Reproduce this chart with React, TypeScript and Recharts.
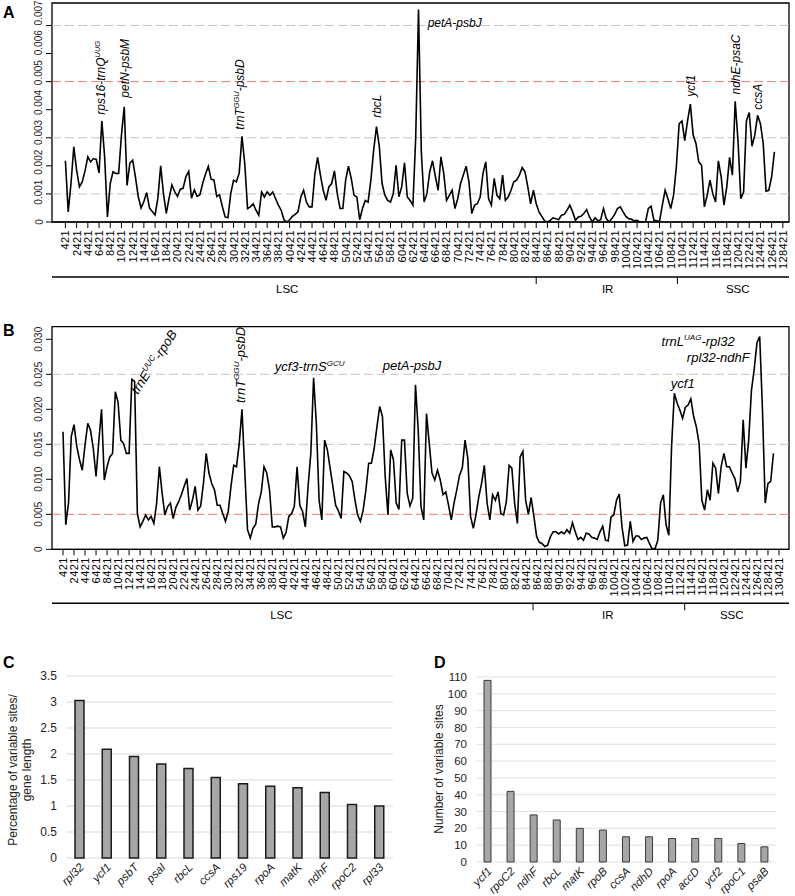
import React from 'react';
import {
  LineChart, Line, XAxis, YAxis, ReferenceLine, ReferenceArea, ReferenceDot,
  BarChart, Bar, CartesianGrid,
} from 'recharts';

const FONT = '"Liberation Sans", Arial, Helvetica, sans-serif';

// sliding window midpoints: first window and step (bp)
const WIN_START = 421;
const WIN_STEP = 500;

// nucleotide diversity (Pi), panel A
const piA = [
  0.00218, 0.00036, 0.00137, 0.00268, 0.00185, 0.00125, 0.00143, 0.00182, 0.00232, 0.00214,
  0.00226, 0.00223, 0.00175, 0.0036, 0.00232, 0.00018, 0.00137, 0.00179, 0.00173, 0.00173,
  0.0031, 0.0041, 0.0013, 0.0021, 0.0022, 0.0016, 0.0009, 0.0005, 0.00073, 0.00105,
  0.0005, 0.00037, 0.00025, 0.00085, 0.002, 0.001, 0.00031, 0.00085, 0.00132, 0.00108,
  0.00091, 0.00117, 0.0012, 0.00162, 0.0018, 0.00085, 0.00114, 0.00091, 0.00097, 0.00138,
  0.00171, 0.00198, 0.00152, 0.0015, 0.00091, 0.00097, 0.00055, 0.00018, 0.00015, 0.00101,
  0.00149, 0.00143, 0.00173, 0.00305, 0.00208, 0.00048, 0.00054, 0.00065, 0.00042, 0.00024,
  0.00107, 0.00089, 0.00107, 0.00095, 0.00107, 0.00083, 0.0006, 0.00042, 0.00008, 0,
  0.00008, 0.0002, 0.00027, 0.00036, 0.00089, 0.00113, 0.00071, 0.00054, 0.00054, 0.0017,
  0.0023, 0.00167, 0.00113, 0.00077, 0.00125, 0.00137, 0.00182, 0.00101, 0.00048, 0.00048,
  0.00149, 0.00199, 0.00155, 0.00095, 0.00089, 0.00008, 0.00048, 0.00077, 0.00071, 0.00149,
  0.00256, 0.0034, 0.0027, 0.00137, 0.00095, 0.00077, 0.00071, 0.00101, 0.00202, 0.0009,
  0.00125, 0.00211, 0.00089, 0.00077, 0.0006, 0.003, 0.00757, 0.0025, 0.00071, 0.00101,
  0.00179, 0.00218, 0.00163, 0.00113, 0.00232, 0.00173, 0.00077, 0.00095, 0.00113, 0.00048,
  0.00083, 0.00137, 0.00167, 0.00199, 0.00143, 0.0003, 0.0006, 0.00065, 0.00089, 0.00173,
  0.00214, 0.00083, 0.0006, 0.00155, 0.00095, 0.00083, 0.00167, 0.00077, 0.00089, 0.00113,
  0.00143, 0.00149, 0.00167, 0.00194, 0.00179, 0.00125, 0.00065, 0.00113, 0.00065, 0.00036,
  0.0002, 0.00004, 0, 0.00006, 0.00015, 0.00012, 0.00008, 0.00024, 0.00027, 0.00042,
  0.0006, 0.00036, 0.00006, 0.00018, 0.0002, 0.0003, 0.00044, 0.00018, 0, 0.00015,
  0.00004, 0.00008, 0.00048, 0.00012, 0, 0.00012, 0.00027, 0.00048, 0.00054, 0.00036,
  0.0002, 0.00012, 0.0001, 0.00004, 0.00006, 0, 0, 0, 0.00048, 0.00056,
  0.00006, 0.00004, 0.00002, 0.0006, 0.00113, 0.00083, 0.00048, 0.00095, 0.00196, 0.0035,
  0.0036, 0.0029, 0.0036, 0.0042, 0.0031, 0.0028, 0.00214, 0.00202, 0.00054, 0.00095,
  0.00149, 0.00101, 0.00071, 0.00218, 0.00161, 0.0006, 0.00125, 0.0023, 0.00167, 0.0043,
  0.0029, 0.00083, 0.00107, 0.0036, 0.0039, 0.0027, 0.0031, 0.0038, 0.0035, 0.0028,
  0.0011, 0.00113, 0.00161, 0.0025,
];

// nucleotide diversity (Pi), panel B
const piB = [
  0.0168, 0.0035, 0.0066, 0.0161, 0.0178, 0.0147, 0.0128, 0.0113, 0.0149, 0.018,
  0.017, 0.0144, 0.0104, 0.0154, 0.02, 0.0099, 0.0118, 0.0132, 0.0137, 0.0225,
  0.021, 0.0156, 0.0151, 0.0137, 0.0137, 0.0243, 0.024, 0.0051, 0.0032, 0.004,
  0.0049, 0.0042, 0.0047, 0.0037, 0.0066, 0.0118, 0.008, 0.0049, 0.0061, 0.0066,
  0.0044, 0.006, 0.0068, 0.0078, 0.009, 0.0101, 0.0056, 0.007, 0.009, 0.0056,
  0.0062, 0.0094, 0.0137, 0.0109, 0.0094, 0.0085, 0.0063, 0.0063, 0.0051, 0.004,
  0.0054, 0.009, 0.012, 0.0118, 0.0151, 0.02, 0.0113, 0.0028, 0.0016, 0.003,
  0.0036, 0.0065, 0.0082, 0.0118, 0.0109, 0.0085, 0.0032, 0.0032, 0.0033, 0.0032,
  0.0016, 0.0024, 0.0047, 0.0051, 0.0061, 0.0118, 0.0063, 0.0054, 0.0032, 0.009,
  0.0137, 0.0245, 0.018, 0.007, 0.0042, 0.0156, 0.0142, 0.0116, 0.009, 0.0063,
  0.0055, 0.0044, 0.0111, 0.0109, 0.0105, 0.0097, 0.0071, 0.0049, 0.004, 0.0056,
  0.0085, 0.0123, 0.0123, 0.0144, 0.0175, 0.0204, 0.019, 0.0104, 0.0049, 0.0142,
  0.0128, 0.0066, 0.0057, 0.0156, 0.0156, 0.008, 0.0062, 0.0073, 0.0235, 0.017,
  0.0061, 0.0042, 0.0194, 0.0151, 0.0109, 0.0099, 0.0113, 0.0099, 0.0078, 0.0082,
  0.0063, 0.0042, 0.0066, 0.0085, 0.0106, 0.0116, 0.0156, 0.013, 0.0047, 0.003,
  0.005, 0.0075, 0.0094, 0.012, 0.0066, 0.0042, 0.0078, 0.007, 0.0082, 0.0051,
  0.0049, 0.0068, 0.012, 0.0116, 0.0066, 0.0037, 0.0132, 0.014, 0.007, 0.005,
  0.0074, 0.0047, 0.0018, 0.001, 0.0008, 0.0004, 0.0006, 0.0018, 0.0025, 0.0025,
  0.0022, 0.0025, 0.0022, 0.0028, 0.0023, 0.0038, 0.0025, 0.0014, 0.0017, 0.0013,
  0.0023, 0.0022, 0.0017, 0.0016, 0.0014, 0.0025, 0.0033, 0.0013, 0.0012, 0.0046,
  0.0049, 0.007, 0.0079, 0.0032, 0.0005, 0.0006, 0.004, 0.0011, 0.0019, 0.0019,
  0.0014, 0.0016, 0.0017, 0.0008, 0, 0.0001, 0.0013, 0.0066, 0.0078, 0.0035,
  0.002, 0.0147, 0.0223, 0.0209, 0.0199, 0.0187, 0.0203, 0.0206, 0.0215, 0.019,
  0.0175, 0.0151, 0.007, 0.0056, 0.0085, 0.007, 0.0123, 0.0116, 0.008, 0.0118,
  0.0137, 0.0118, 0.0118, 0.0109, 0.0101, 0.0082, 0.0097, 0.0185, 0.0116, 0.0156,
  0.0227, 0.0257, 0.0295, 0.0304, 0.02, 0.0066, 0.0094, 0.0097, 0.0137,
];

const xTicksA = [
  421, 2421, 4421, 6421, 8421, 10421, 12421, 14421, 16421, 18421, 20421, 22421, 24421,
  26421, 28421, 30421, 32421, 34421, 36421, 38421, 40421, 42421, 44421, 46421, 48421,
  50421, 52421, 54421, 56421, 58421, 60421, 62421, 64421, 66421, 68421, 70421, 72421,
  74421, 76421, 78421, 80421, 82421, 84421, 86421, 88421, 90421, 92421, 94421, 96421,
  98421, 100421, 102421, 104421, 106421, 108421, 110421, 112421, 114421, 116421, 118421,
  120421, 122421, 124421, 126421, 128421,
];
const xTicksB = [
  421, 2421, 4421, 6421, 8421, 10421, 12421, 14421, 16421, 18421, 20421, 22421, 24421,
  26421, 28421, 30421, 32421, 34421, 36421, 38421, 40421, 42421, 44421, 46421, 48421,
  50421, 52421, 54421, 56421, 58421, 60421, 62421, 64421, 66421, 68421, 70421, 72421,
  74421, 76421, 78421, 80421, 82421, 84421, 86421, 88421, 90421, 92421, 94421, 96421,
  98421, 100421, 102421, 104421, 106421, 108421, 110421, 112421, 114421, 116421, 118421,
  120421, 122421, 124421, 126421, 128421, 130421,
];
const yTicksA = [0, 0.001, 0.002, 0.003, 0.004, 0.005, 0.006, 0.007];
const yTicksB = [0, 0.005, 0.01, 0.015, 0.02, 0.025, 0.03];
const greyLinesA = [0.001, 0.003, 0.007];
const greyLinesB = [0.015, 0.025];
const redLine = 0.005;

const regionNames = ['LSC', 'IR', 'SSC'];
const regionMidA = [40000, 97170, 120370];
const regionEdgeA = [84421, 109610];
const regionMidB = [40080, 99330, 121840];
const regionEdgeB = [85760, 113300];

// highlighted loci
const lociA = [
  { pre: 'rps16-trnQ', sup: 'UUG', post: '', pos: 6720, y: 0.00382, angle: -90, anchor: 'start' },
  { pre: 'petN-psbM', sup: '', post: '', pos: 11000, y: 0.00443, angle: -90, anchor: 'start' },
  { pre: 'trnT', sup: 'GGU', post: '-psbD', pos: 31610, y: 0.00329, angle: -90, anchor: 'start' },
  { pre: 'rbcL', sup: '', post: '', pos: 55960, y: 0.00371, angle: -90, anchor: 'start' },
  { pre: 'petA-psbJ', sup: '', post: '', pos: 65060, y: 0.00696, angle: 0, anchor: 'start' },
  { pre: 'ycf1', sup: '', post: '', pos: 112070, y: 0.00446, angle: -90, anchor: 'start' },
  { pre: 'ndhE-psaC', sup: '', post: '', pos: 120010, y: 0.00454, angle: -90, anchor: 'start' },
  { pre: 'ccsA', sup: '', post: '', pos: 123940, y: 0.004, angle: -90, anchor: 'start' },
];
const lociB = [
  { pre: 'trnE', sup: 'UUC', post: '-rpoB', pos: 13985, y: 0.02204, angle: -57, anchor: 'start' },
  { pre: 'trnT', sup: 'GGU', post: '-psbD', pos: 32595, y: 0.0209, angle: -90, anchor: 'start' },
  { pre: 'ycf3-trnS', sup: 'GCU', post: '', pos: 45215, y: 0.02547, angle: 0, anchor: 'middle' },
  { pre: 'petA-psbJ', sup: '', post: '', pos: 58470, y: 0.02561, angle: 0, anchor: 'start' },
  { pre: 'ycf1', sup: '', post: '', pos: 112940, y: 0.02304, angle: 0, anchor: 'middle' },
  { pre: 'trnL', sup: 'UAG', post: '-rpl32', pos: 122380, y: 0.02909, angle: 0, anchor: 'end' },
  { pre: 'rpl32-ndhF', sup: '', post: '', pos: 125110, y: 0.0268, angle: 0, anchor: 'end' },
];

// panel C
const genesC = ['rpl32', 'ycf1', 'psbT', 'psaI', 'rbcL', 'ccsA', 'rps19', 'rpoA', 'matK', 'ndhF', 'rpoC2', 'rpl33'];
const pctC = [3.03, 2.09, 1.95, 1.81, 1.72, 1.55, 1.43, 1.38, 1.35, 1.26, 1.03, 1.0];
const yTicksC = [0, 0.5, 1, 1.5, 2, 2.5, 3, 3.5];

// panel D
const genesD = ['ycf1', 'rpoC2', 'ndhF', 'rbcL', 'matK', 'rpoB', 'ccsA', 'ndhD', 'rpoA', 'accD', 'ycf2', 'rpoC1', 'psaB'];
const sitesD = [108, 42, 28, 25, 20, 19, 15, 15, 14, 14, 14, 11, 9];
const yTicksD = [0, 10, 20, 30, 40, 50, 60, 70, 80, 90, 100, 110];

const fmtPi = (v: number) => (v === 0 ? '0' : v.toFixed(3));

const PosTick = (props: any) => {
  const { x, y, payload } = props;
  return (
    <text x={x} y={y} transform={`rotate(-90 ${x} ${y})`} textAnchor="end" dy="0.36em"
      fontSize={11} letterSpacing={0.4} fontFamily={FONT} fill="#000">
      {payload.value}
    </text>
  );
};

// labels in panel A sit a little wider apart than their ticks
const PiTick = (props: any) => {
  const { x, y, payload, spread, unit } = props;
  const ly = y - (payload.value / unit) * spread;
  return (
    <text x={x} y={ly} transform={`rotate(-90 ${x} ${ly})`} textAnchor="middle" dy={-1.5}
      fontSize={10} fontFamily={FONT} fill="#222">
      {fmtPi(payload.value)}
    </text>
  );
};

const RegionTick = (props: any) => {
  const { x, y, payload, edges, mids } = props;
  if (edges.includes(payload.value)) {
    return <line x1={x} y1={y} x2={x} y2={y + 7} stroke="#000" strokeWidth={1} />;
  }
  const i = mids.indexOf(payload.value);
  return (
    <text x={x} y={y + 16} textAnchor="middle" fontSize={11.5} fontFamily={FONT} fill="#000">
      {regionNames[i]}
    </text>
  );
};

const LocusLabel = (props: any) => {
  const { cx, cy, locus, size } = props;
  const rot = locus.angle ? `rotate(${locus.angle} ${cx} ${cy})` : undefined;
  const sup = size * 0.62;
  return (
    <text x={cx} y={cy} transform={rot} textAnchor={locus.anchor} dy={locus.angle === -90 ? '0.35em' : 0}
      fontStyle="italic" fontSize={size} fontFamily={FONT} fill="#000">
      {locus.pre}
      {locus.sup ? <tspan fontSize={sup} dy={-size * 0.42}>{locus.sup}</tspan> : null}
      {locus.post ? <tspan dy={locus.sup ? size * 0.42 : 0}>{locus.post}</tspan> : null}
    </text>
  );
};

type PanelProps = {
  top: number; height: number; mTop: number; plotH: number; axisH: number;
  values: number[]; xTicks: number[]; xDomain: [number, number];
  yTicks: number[]; yMax: number; grey: number[]; spread: number; unit: number;
  mids: number[]; edges: number[]; loci: any[]; labelSize: number;
};

function DiversityPanel(p: PanelProps) {
  const data = p.values.map((v, i) => ({ pos: WIN_START + i * WIN_STEP, pi: v }));
  const regionH = p.height - p.mTop - p.plotH - p.axisH;
  return (
    <div style={{ position: 'absolute', left: 0, top: p.top }}>
      <LineChart width={795} height={p.height} data={data} margin={{ top: p.mTop, right: 6, bottom: 0, left: 0 }}>
        <XAxis dataKey="pos" type="number" domain={p.xDomain} allowDataOverflow ticks={p.xTicks} interval={0}
          height={p.axisH} tickSize={6} tickMargin={2} tick={<PosTick />}
          tickLine={{ stroke: '#000' }} axisLine={{ stroke: '#000' }} />
        <XAxis xAxisId="region" dataKey="pos" type="number" domain={p.xDomain} allowDataOverflow
          ticks={[...p.edges, ...p.mids]} interval={0} height={regionH} tickSize={0} tickMargin={0}
          tickLine={false} axisLine={{ stroke: '#000', strokeWidth: 1.4 }}
          tick={<RegionTick edges={p.edges} mids={p.mids} />} />
        <YAxis type="number" domain={[0, p.yMax]} allowDataOverflow ticks={p.yTicks} interval={0} width={52}
          tickSize={6} tickMargin={2} tick={<PiTick spread={p.spread} unit={p.unit} />}
          tickLine={{ stroke: '#000' }} axisLine={false} />
        {p.grey.map((g) => (
          <ReferenceLine key={g} y={g} stroke="#c4c4c4" strokeWidth={1} strokeDasharray="9 4" />
        ))}
        <ReferenceLine y={redLine} stroke="#f07a7a" strokeWidth={1} strokeDasharray="9 4" />
        <ReferenceArea x1={p.xDomain[0]} x2={p.xDomain[1]} y1={0} y2={p.yMax} fill="none"
          stroke="#000" strokeWidth={1.3} ifOverflow="visible" />
        <Line type="linear" dataKey="pi" stroke="#000" strokeWidth={1.6} dot={false} isAnimationActive={false} />
        {p.loci.map((l) => (
          <ReferenceDot key={l.pre + l.pos} x={l.pos} y={l.y} r={1} ifOverflow="visible"
            shape={(s: any) => <LocusLabel cx={s.cx} cy={s.cy} locus={l} size={p.labelSize} />} />
        ))}
      </LineChart>
    </div>
  );
}

const GeneTick = (props: any) => {
  const { x, y, payload } = props;
  const tx = x + 5;
  const ty = y + 10;
  return (
    <text x={tx} y={ty} transform={`rotate(-45 ${tx} ${ty})`} textAnchor="end" fontStyle="italic"
      fontSize={11.5} fontFamily={FONT} fill="#222">
      {payload.value}
    </text>
  );
};

function PanelC() {
  const data = genesC.map((g, i) => ({ gene: g, v: pctC[i] }));
  return (
    <div style={{ position: 'absolute', left: 0, top: 640 }}>
      <BarChart width={400} height={256} data={data} margin={{ top: 36, right: 7, bottom: 0, left: 0 }}>
        <CartesianGrid vertical={false} stroke="#dadada" />
        <XAxis dataKey="gene" interval={0} height={38} tickSize={0} tickMargin={0} tickLine={false}
          axisLine={false} tick={<GeneTick />} />
        <YAxis domain={[0, 3.5]} ticks={yTicksC} interval={0} width={66} tickLine={false} axisLine={false}
          tickMargin={3} tick={{ fontSize: 12, fill: '#222', fontFamily: FONT }} />
        <Bar dataKey="v" barSize={9} fill="#a6a6a6" stroke="#1c1c1c" strokeWidth={1.5} isAnimationActive={false} />
      </BarChart>
    </div>
  );
}

function PanelD() {
  const data = genesD.map((g, i) => ({ gene: g, v: sitesD[i] }));
  return (
    <div style={{ position: 'absolute', left: 400, top: 640 }}>
      <BarChart width={395} height={256} data={data} margin={{ top: 37, right: 19, bottom: 0, left: 0 }}>
        <CartesianGrid vertical={false} stroke="#e2e2e2" />
        <XAxis dataKey="gene" interval={0} height={34} tickSize={0} tickMargin={0} tickLine={false}
          axisLine={false} tick={<GeneTick />} />
        <YAxis domain={[0, 110]} ticks={yTicksD} interval={0} width={76} tickLine={false} axisLine={false}
          tickMargin={3} tick={{ fontSize: 11.5, fill: '#222', fontFamily: FONT }} />
        <Bar dataKey="v" barSize={7} fill="#a6a6a6" stroke="#3a3a3a" strokeWidth={1} isAnimationActive={false} />
      </BarChart>
    </div>
  );
}

export default function App() {
  return (
    <div style={{ position: 'absolute', left: 0, top: 0, width: 795, height: 896, background: '#fff', fontFamily: FONT }}>
      <DiversityPanel top={0} height={300} mTop={3} plotH={219} axisH={55}
        values={piA} xTicks={xTicksA} xDomain={[-1970, 129521]} yTicks={yTicksA} yMax={0.0078}
        spread={1.8} unit={0.001}
        grey={greyLinesA} mids={regionMidA} edges={regionEdgeA} loci={lociA} labelSize={12} />
      <DiversityPanel top={300} height={330} mTop={26.7} plotH={222.6} axisH={54}
        values={piB} xTicks={xTicksB} xDomain={[-1576, 132241]} yTicks={yTicksB} yMax={0.0318}
        spread={0} unit={0.005}
        grey={greyLinesB} mids={regionMidB} edges={regionEdgeB} loci={lociB} labelSize={13} />
      <PanelC />
      <PanelD />
      <svg width={795} height={896} style={{ position: 'absolute', left: 0, top: 0, pointerEvents: 'none' }}>
        <g fontFamily={FONT} fontWeight="bold" fontSize={16} fill="#000">
          <text x={3} y={18}>A</text>
          <text x={3} y={336}>B</text>
          <text x={3} y={668}>C</text>
          <text x={434} y={668}>D</text>
        </g>
        <g fontFamily={FONT} fontSize={12} fill="#222" textAnchor="middle">
          <text x={17} y={770} transform="rotate(-90 17 770)">Percentage of variable sites/</text>
          <text x={31} y={770} transform="rotate(-90 31 770)">gene length</text>
          <text x={443} y={769} transform="rotate(-90 443 769)">Number of variable sites</text>
        </g>
      </svg>
    </div>
  );
}
